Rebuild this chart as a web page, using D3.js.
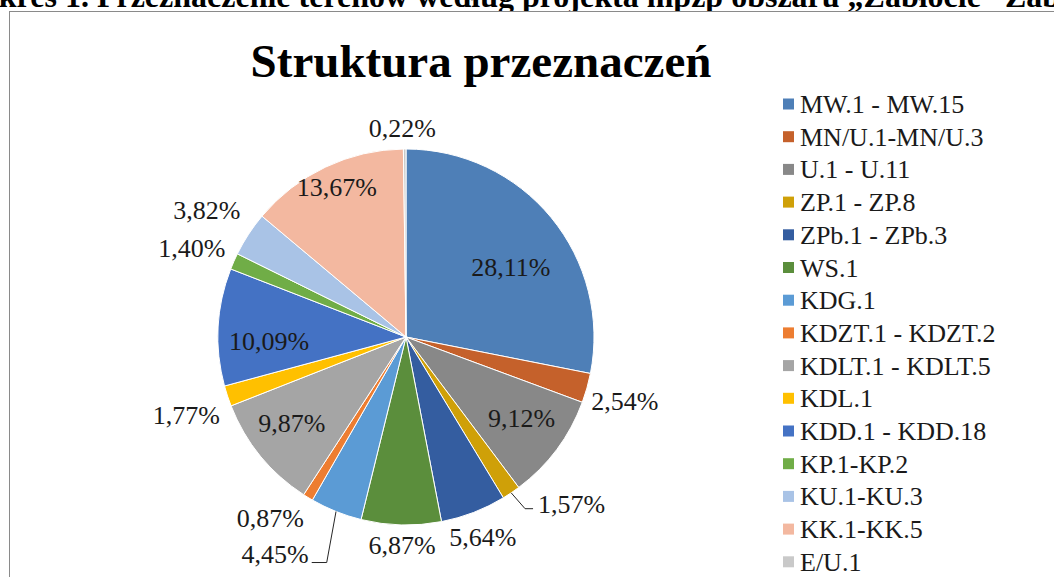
<!DOCTYPE html>
<html>
<head>
<meta charset="utf-8">
<script src="https://cdn.jsdelivr.net/npm/d3@7"></script>
<style>
  body { margin: 0; background: #fff; }
  text { font-family: "Liberation Serif", "Times New Roman", serif; }
</style>
</head>
<body>
<div class="container"></div>
<script>
// data
var categories = ["MW.1 - MW.15", "MN/U.1-MN/U.3", "U.1 - U.11", "ZP.1 - ZP.8", "ZPb.1 - ZPb.3",
  "WS.1", "KDG.1", "KDZT.1 - KDZT.2", "KDLT.1 - KDLT.5", "KDL.1", "KDD.1 - KDD.18",
  "KP.1-KP.2", "KU.1-KU.3", "KK.1-KK.5", "E/U.1"];
var shares = [28.11, 2.54, 9.12, 1.57, 5.64, 6.87, 4.45, 0.87, 9.87, 1.77, 10.09, 1.40, 3.82, 13.67, 0.22];
var colors = ["#4e7fb7", "#c5612b", "#888888", "#cfa008", "#345da0", "#5b8e3c", "#5b9bd5", "#ed7d31",
  "#a5a5a5", "#ffc000", "#4472c4", "#70ad47", "#a9c3e6", "#f3b8a0", "#c9c9c9"];

// label layout: distance from centre (px) and angle shift (deg) off the slice middle
var labelDist  = [126, 228, 141, 235, 214, 208, 253, 226, 143, 233, 137, 232, 236, 165, 209];
var labelShift = [5.7, 0.5, -1.8, -10.8, 0, -0.4, 9.3, 5.5, 2.2, -1.2, -4.7, -1.2, -0.7, 0.6, -0.6];
var leaders = [3, 6];

const WIDTH = 1054;
const HEIGHT = 577;
const CX = 406, CY = 337, R = 188;

var fmt = function(v){ return v.toFixed(2).replace(".", ",") + "%"; };

var svg = d3.select(".container").append("svg")
  .attr("width", WIDTH)
  .attr("height", HEIGHT)
  .style("display", "block");

// cut-off caption above the chart frame
svg.append("text")
  .attr("x", -48).attr("y", 7)
  .attr("font-size", 32).attr("font-weight", "bold")
  .attr("fill", "#000")
  .text("Wykres 1. Przeznaczenie terenów według projekta mpzp obszaru „Zabłocie” Zabłocie");

svg.append("rect")
  .attr("x", 9.5).attr("y", 11.5)
  .attr("width", 1100).attr("height", 620)
  .attr("fill", "#fff")
  .attr("stroke", "#8a8a8a");

svg.append("text")
  .attr("x", 481).attr("y", 77)
  .attr("text-anchor", "middle")
  .attr("font-size", 47).attr("font-weight", "bold")
  .text("Struktura przeznaczeń");

var pie = d3.pie().sort(null).value(function(d){ return d; });
var arcs = pie(shares);
var arc = d3.arc().innerRadius(0).outerRadius(R);

var g = svg.append("g").attr("transform", "translate(" + CX + "," + CY + ")");

g.selectAll("path.slice").data(arcs).enter().append("path")
  .attr("class", "slice")
  .attr("d", arc)
  .attr("fill", function(d, i){ return colors[i]; })
  .attr("stroke", "#fff")
  .attr("stroke-width", 1);

var labelXY = function(d, i){
  var a = (d.startAngle + d.endAngle) / 2 + labelShift[i] * Math.PI / 180;
  return [labelDist[i] * Math.sin(a), -labelDist[i] * Math.cos(a)];
};

var labels = g.selectAll("text.lbl").data(arcs).enter().append("text")
  .attr("class", "lbl")
  .attr("x", function(d, i){ return labelXY(d, i)[0]; })
  .attr("y", function(d, i){ return labelXY(d, i)[1] + 9; })
  .attr("text-anchor", "middle")
  .attr("font-size", 26)
  .attr("fill", "#1a1a1a")
  .text(function(d, i){ return fmt(shares[i]); });

// leader lines for the two small slices
leaders.forEach(function(i){
  var d = arcs[i];
  var mid = (d.startAngle + d.endAngle) / 2;
  var p0 = [R * Math.sin(mid), -R * Math.cos(mid)];
  var lp = labelXY(d, i);
  var w = labels.filter(function(e, j){ return j === i; }).node().getComputedTextLength();
  var right = lp[0] > 0;
  var endX = right ? lp[0] - w / 2 - 5 : lp[0] + w / 2 + 3;
  var endY = lp[1] + (right ? 5 : 9);
  var elbowX = right ? endX - 8 : endX + 15;
  g.append("path")
    .attr("d", d3.line()([p0, [elbowX, endY], [endX, endY]]))
    .attr("fill", "none")
    .attr("stroke", "#262626")
    .attr("stroke-width", 1);
});

// legend
var legend = svg.append("g").attr("transform", "translate(783,104)");
var rowH = 32.7;
var rows = legend.selectAll("g").data(categories).enter().append("g")
  .attr("transform", function(d, i){ return "translate(0," + (i * rowH) + ")"; });
rows.append("rect")
  .attr("x", 0).attr("y", -5.5)
  .attr("width", 11).attr("height", 11)
  .attr("fill", function(d, i){ return colors[i]; });
rows.append("text")
  .attr("x", 17).attr("y", 9)
  .attr("font-size", 26)
  .attr("fill", "#1a1a1a")
  .text(function(d){ return d; });
</script>
</body>
</html>
